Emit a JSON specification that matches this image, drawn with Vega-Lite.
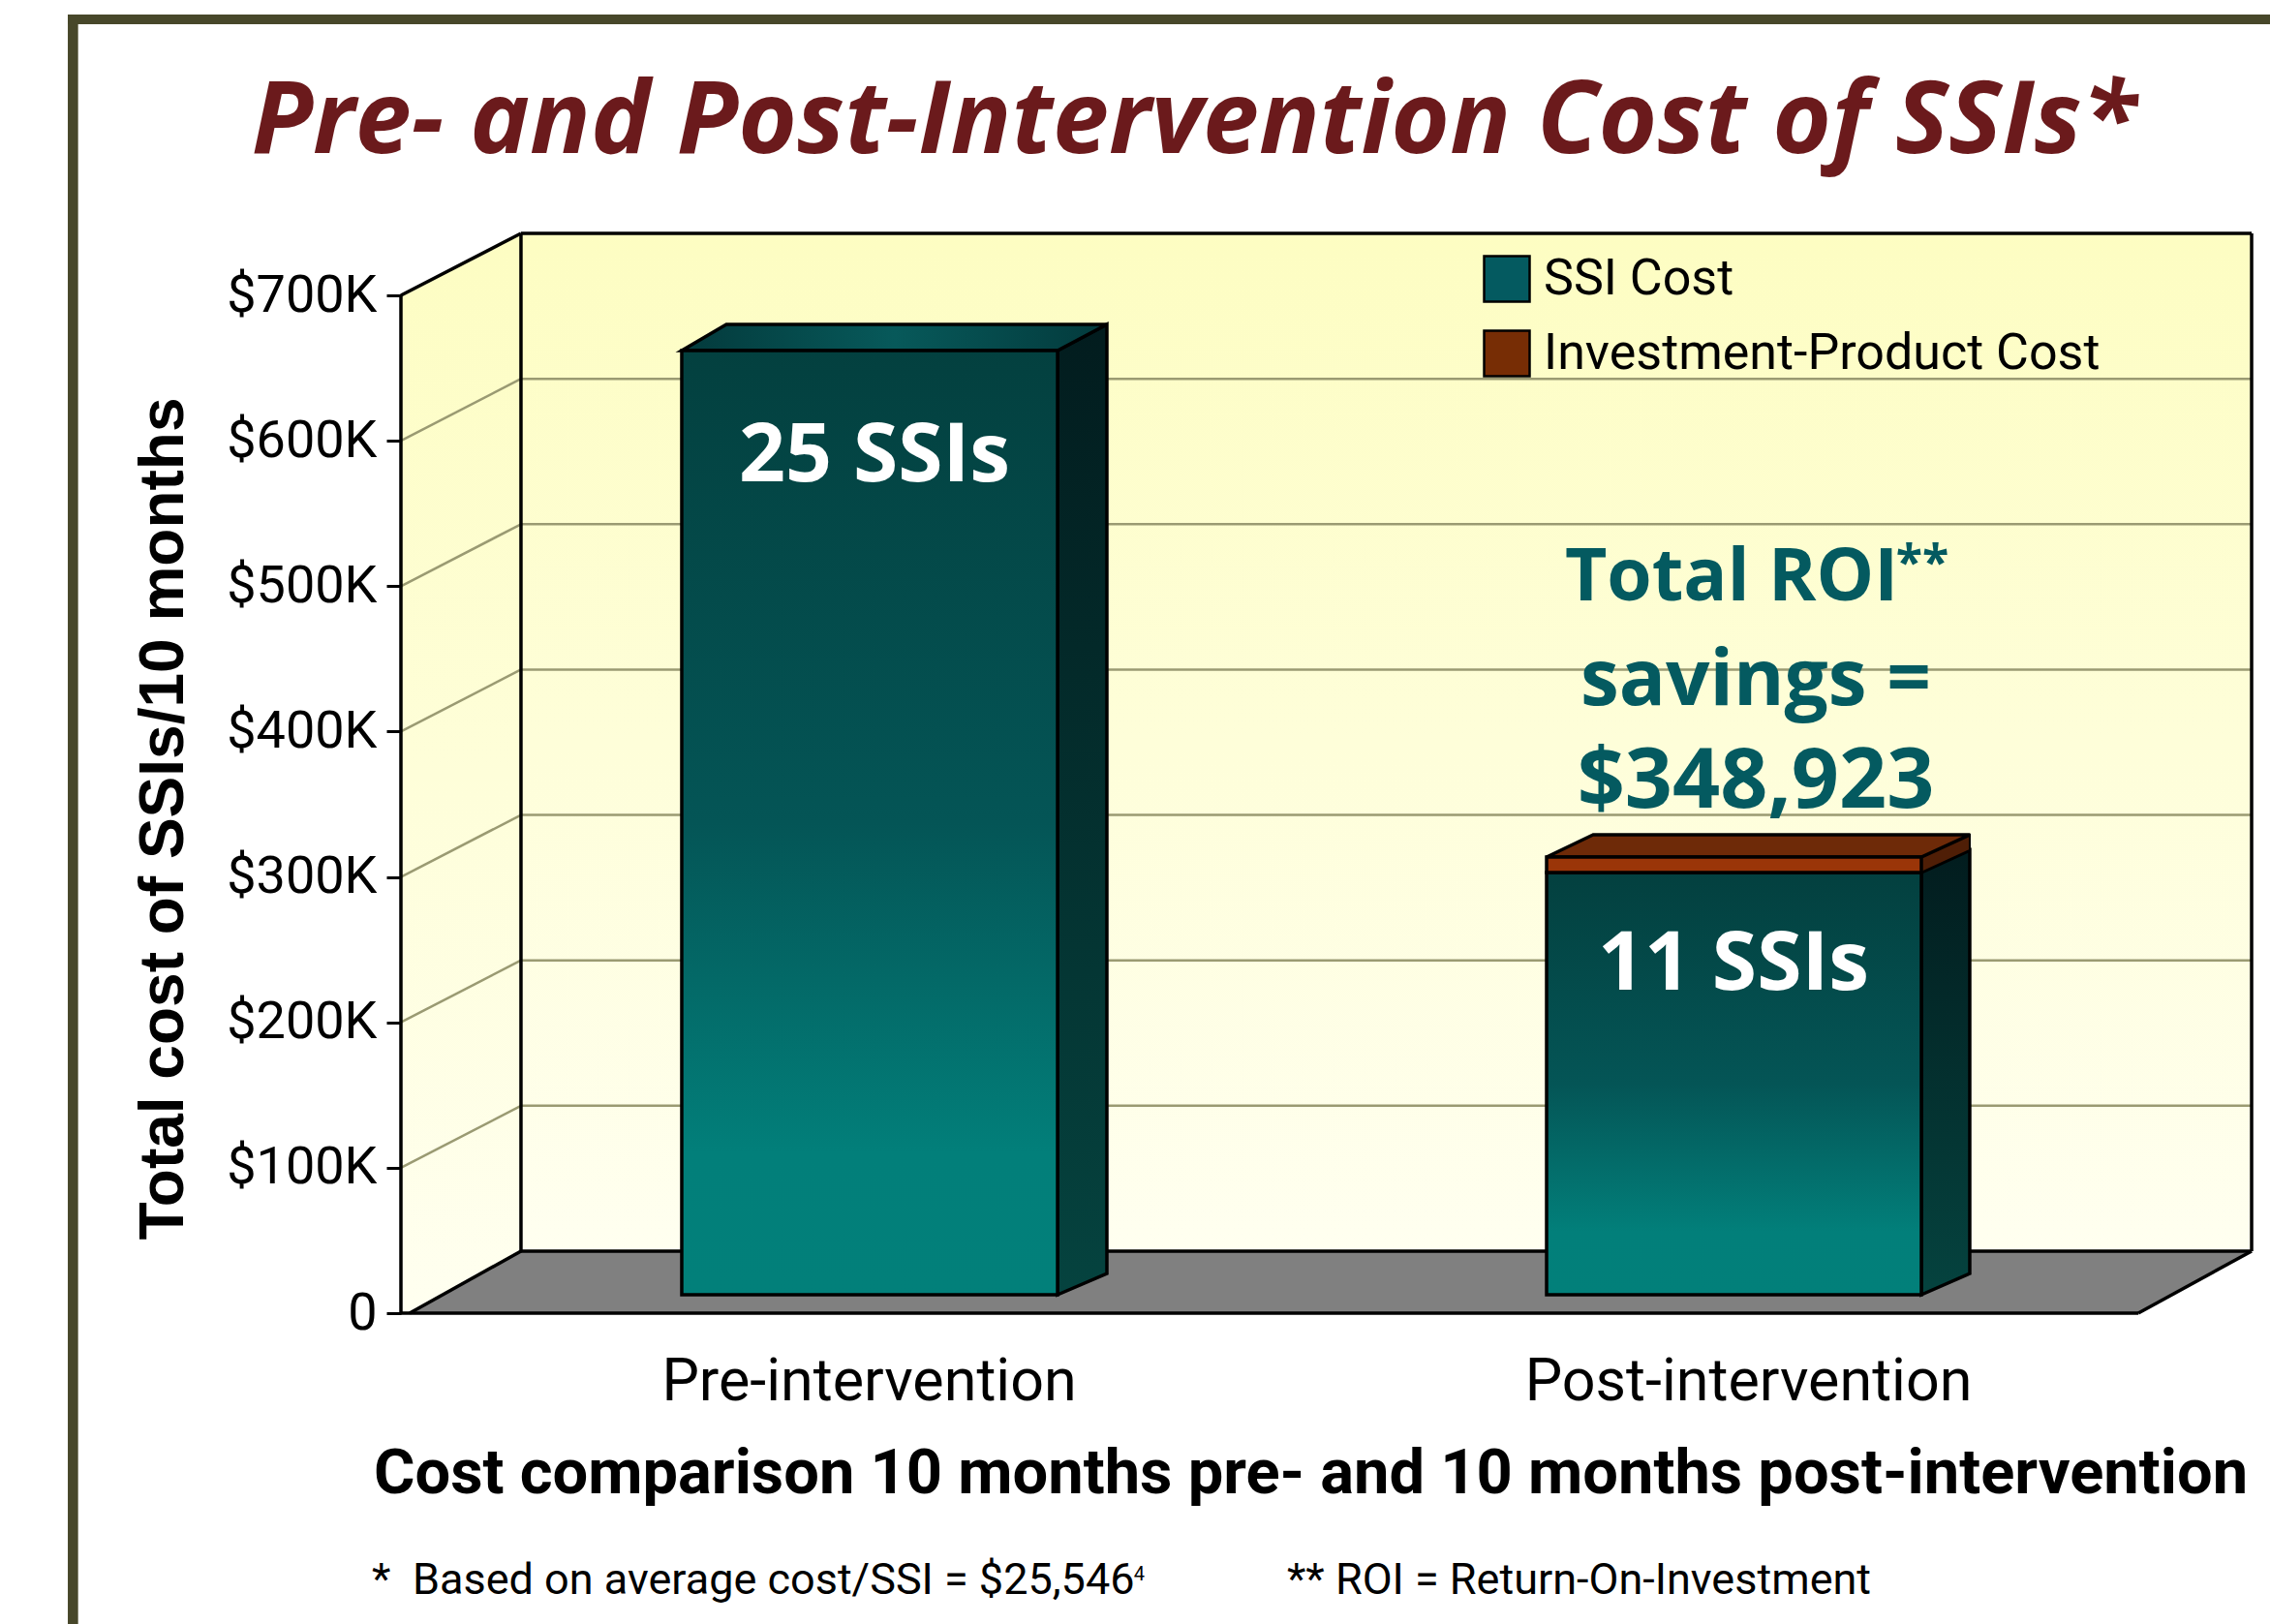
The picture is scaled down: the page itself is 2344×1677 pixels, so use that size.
{
"$schema":"https://vega.github.io/schema/vega-lite/v6.json",
"width":1912,"height":1115,
"autosize":{"type":"none"},
"padding":{"left":414,"top":241,"right":18,"bottom":321},
"background":"white",
"config":{"view":{"stroke":null}},
"title":{"text":"Pre- and Post-Intervention Cost of SSIs*","anchor":"middle","dx":-137,"offset":-247,"baseline":"alphabetic","font":"Open Sans","fontSize":104,"fontWeight":"bold","fontStyle":"italic","color":"#6b1a1c"},
"datasets":{
"frame":[{"x":0.0723,"x2":2.6202,"y":886500,"y2":893200},{"x":0.0723,"x2":0.0842,"y":-213800,"y2":893200}],
"backwall":[{"x":0.5966,"x2":2.5989,"y":42627,"y2":742646}],
"sidewall":[{"x":0.4577,"y":0,"y2":700000},{"x":0.4678,"y":0,"y2":703094},{"x":0.5966,"y":42627,"y2":742646}],
"floor":[{"y":0,"x":0.4678,"x2":2.4678},{"y":42627,"x":0.5966,"x2":2.5989}],
"grid":[
{"x":0.4577,"y":100000,"x2":0.5966,"y2":142627},{"x":0.5966,"y":142627,"x2":2.5989,"y2":142627},
{"x":0.4577,"y":200000,"x2":0.5966,"y2":242627},{"x":0.5966,"y":242627,"x2":2.5989,"y2":242627},
{"x":0.4577,"y":300000,"x2":0.5966,"y2":342627},{"x":0.5966,"y":342627,"x2":2.5989,"y2":342627},
{"x":0.4577,"y":400000,"x2":0.5966,"y2":442627},{"x":0.5966,"y":442627,"x2":2.5989,"y2":442627},
{"x":0.4577,"y":500000,"x2":0.5966,"y2":542627},{"x":0.5966,"y":542627,"x2":2.5989,"y2":542627},
{"x":0.4577,"y":600000,"x2":0.5966,"y2":642627},{"x":0.5966,"y":642627,"x2":2.5989,"y2":642627}],
"outline":[
{"x":0.4577,"y":0,"x2":0.4577,"y2":700000},
{"x":0.4577,"y":700000,"x2":0.5966,"y2":742646},
{"x":0.5966,"y":42627,"x2":0.5966,"y2":742646},
{"x":0.5966,"y":742646,"x2":2.5989,"y2":742646},
{"x":2.5989,"y":42627,"x2":2.5989,"y2":742646},
{"x":0.5966,"y":42627,"x2":2.5989,"y2":42627},
{"x":0.4678,"y":0,"x2":0.5966,"y2":42627},
{"x":2.4678,"y":0,"x2":2.5989,"y2":42627},
{"x":0.4577,"y":0,"x2":2.4678,"y2":0}],
"legendbars":[
{"series":"SSI Cost","x":0.7826,"x2":1.2174,"y":12655,"y2":662054},
{"series":"SSI Cost","x":1.7832,"x2":2.2168,"y":12655,"y2":303053},
{"series":"Investment-Product Cost","x":1.7832,"x2":2.2168,"y":303053,"y2":313710}],
"ssifront":[{"x":0.7826,"x2":1.2174,"y":12655,"y2":662054},{"x":1.7832,"x2":2.2168,"y":12655,"y2":303053}],
"invfront":[{"x":1.7832,"x2":2.2168,"y":303053,"y2":313710}],
"ssiside":[
{"id":"a","x":1.2174,"y":12655,"y2":662054},{"id":"a","x":1.2745,"y":27308,"y2":680037},
{"id":"b","x":2.2168,"y":12655,"y2":303053},{"id":"b","x":2.2728,"y":27308,"y2":318372}],
"invside":[{"x":2.2168,"y":303053,"y2":313710},{"x":2.2728,"y":318372,"y2":329029}],
"ssitop":[{"y":662054,"x":0.7826,"x2":1.2174},{"y":680037,"x":0.8342,"x2":1.2745}],
"invtop":[{"y":313710,"x":1.7832,"x2":2.2168},{"y":329029,"x":1.837,"x2":2.2728}],
"barlabels":[{"label":"25 SSIs","x":1.0056,"y":572137},{"label":"11 SSIs","x":1.9994,"y":222461}],
"roi1":[{"label":"Total ROI","x":1.9972,"y":490213}],
"roi1s":[{"label":"**","x":2.2179,"y":504866}],
"roi2":[{"label":"savings =","x":2.0252,"y":418279}],
"roi3":[{"label":"$348,923","x":2.0252,"y":347678}],
"notes":[{"label":"*","x":0.4241,"y":-193155},{"label":"Based on average cost/SSI = $25,546","x":0.4711,"y":-193155},{"label":"** ROI = Return-On-Investment","x":1.4829,"y":-193155}],
"sup":[{"label":"4","x":1.3055,"y":-183830}]
},
"encoding":{
"x":{"field":"x","type":"quantitative","scale":{"domain":[0.4577,2.6],"nice":false,"zero":false},
 "axis":{"values":[0.9989,2.0163],"labelExpr":"datum.value<1.5?'Pre-intervention':'Post-intervention'","ticks":false,"domain":false,"grid":false,"labelFont":"Roboto","labelFontSize":61,"labelColor":"black","labelPadding":89,"labelBaseline":"alphabetic","labelOverlap":false,"labelFlush":false,"labelLimit":0,
 "title":"Cost comparison 10 months pre- and 10 months post-intervention","titleFont":"Roboto","titleFontWeight":"bold","titleFontSize":65,"titleColor":"black","titleX":939,"titleY":185,"titleBaseline":"alphabetic","titleAlign":"center","titleLimit":0}},
"y":{"field":"y","type":"quantitative","stack":null,"scale":{"domain":[0,742646],"nice":false,"zero":false},
 "axis":{"values":[0,100000,200000,300000,400000,500000,600000,700000],"labelExpr":"datum.value==0?'0':'$'+datum.value/1000+'K'","domain":false,"grid":false,"tickColor":"black","tickWidth":3,"tickSize":15,"labelFont":"Roboto","labelFontSize":54,"labelColor":"black","labelPadding":10,"labelOverlap":false,"labelLimit":0,"labelFlush":false,
 "title":"Total cost of SSIs/10 months","titleFont":"Liberation Sans","titleFontWeight":"bold","titleFontSize":64,"titleColor":"black","titleX":-226,"titleY":604,"titleBaseline":"alphabetic","titleAlign":"center","titleAngle":-90,"titleLimit":0}}
},
"layer":[
{"data":{"name":"frame"},"mark":{"type":"rect","color":"#47472a"},"encoding":{"x2":{"field":"x2"},"y2":{"field":"y2"}}},
{"data":{"name":"backwall"},"mark":{"type":"rect","color":{"gradient":"linear","x1":0,"y1":0,"x2":0,"y2":1,"stops":[{"offset":0,"color":"#fdfdc2"},{"offset":1,"color":"#fffff0"}]}},"encoding":{"x2":{"field":"x2"},"y2":{"field":"y2"}}},
{"data":{"name":"sidewall"},"mark":{"type":"area","color":{"gradient":"linear","x1":0,"y1":0,"x2":0,"y2":1,"stops":[{"offset":0,"color":"#fdfdc2"},{"offset":1,"color":"#fffff0"}]}},"encoding":{"y2":{"field":"y2"}}},
{"data":{"name":"floor"},"mark":{"type":"area","orient":"horizontal","color":"#808080"},"encoding":{"x2":{"field":"x2"}}},
{"data":{"name":"grid"},"mark":{"type":"rule","color":"#9a9a72","strokeWidth":2.5},"encoding":{"x2":{"field":"x2"},"y2":{"field":"y2"}}},
{"data":{"name":"outline"},"mark":{"type":"rule","color":"black","strokeWidth":3.5},"encoding":{"x2":{"field":"x2"},"y2":{"field":"y2"}}},
{"data":{"name":"legendbars"},"mark":{"type":"rect"},"encoding":{"x2":{"field":"x2"},"y2":{"field":"y2"},
 "color":{"field":"series","type":"nominal","sort":null,"scale":{"domain":["SSI Cost","Investment-Product Cost"],"range":["#045a60","#772d05"]},
 "legend":{"title":null,"orient":"none","legendX":1116,"legendY":21,"padding":0,"symbolType":"square","symbolSize":2209,"symbolStrokeColor":"black","symbolStrokeWidth":2.5,"symbolOpacity":1,"labelFont":"Roboto","labelFontSize":52,"labelColor":"black","labelOffset":12,"labelLimit":0,"rowPadding":19}}}},
{"data":{"name":"ssiside"},"mark":{"type":"area","stroke":"black","strokeWidth":3.5,"color":{"gradient":"linear","x1":0,"y1":0,"x2":0,"y2":1,"stops":[{"offset":0,"color":"#021c1e"},{"offset":1,"color":"#05433f"}]}},"encoding":{"y2":{"field":"y2"},"detail":{"field":"id"}}},
{"data":{"name":"invside"},"mark":{"type":"area","stroke":"black","strokeWidth":2,"color":"#4f1e06"},"encoding":{"y2":{"field":"y2"}}},
{"data":{"name":"ssitop"},"mark":{"type":"area","orient":"horizontal","stroke":"black","strokeWidth":3.5,"color":{"gradient":"linear","x1":0,"y1":0,"x2":1,"y2":0,"stops":[{"offset":0,"color":"#033a3c"},{"offset":0.5,"color":"#07595a"},{"offset":1,"color":"#033a3c"}]}},"encoding":{"x2":{"field":"x2"}}},
{"data":{"name":"invtop"},"mark":{"type":"area","orient":"horizontal","stroke":"black","strokeWidth":3.5,"color":"#6e2a08"},"encoding":{"x2":{"field":"x2"}}},
{"data":{"name":"ssifront"},"mark":{"type":"rect","stroke":"black","strokeWidth":3.5,"color":{"gradient":"linear","x1":0,"y1":0,"x2":0,"y2":1,"stops":[{"offset":0,"color":"#03403f"},{"offset":0.5,"color":"#045556"},{"offset":0.85,"color":"#027f7a"},{"offset":1,"color":"#02807a"}]}},"encoding":{"x2":{"field":"x2"},"y2":{"field":"y2"}}},
{"data":{"name":"invfront"},"mark":{"type":"rect","stroke":"black","strokeWidth":3.5,"color":"#9a3508"},"encoding":{"x2":{"field":"x2"},"y2":{"field":"y2"}}},
{"data":{"name":"barlabels"},"mark":{"type":"text","font":"Open Sans","fontWeight":"bold","fontSize":84,"color":"white","align":"center","baseline":"alphabetic"},"encoding":{"text":{"field":"label"}}},
{"data":{"name":"roi1"},"mark":{"type":"text","font":"Open Sans","fontWeight":"bold","fontSize":75,"color":"#045a60","align":"center","baseline":"alphabetic"},"encoding":{"text":{"field":"label"}}},
{"data":{"name":"roi1s"},"mark":{"type":"text","font":"Open Sans","fontWeight":"bold","fontSize":50,"color":"#045a60","align":"center","baseline":"alphabetic"},"encoding":{"text":{"field":"label"}}},
{"data":{"name":"roi2"},"mark":{"type":"text","font":"Open Sans","fontWeight":"bold","fontSize":80,"color":"#045a60","align":"center","baseline":"alphabetic"},"encoding":{"text":{"field":"label"}}},
{"data":{"name":"roi3"},"mark":{"type":"text","font":"Open Sans","fontWeight":"bold","fontSize":86,"color":"#045a60","align":"center","baseline":"alphabetic"},"encoding":{"text":{"field":"label"}}},
{"data":{"name":"notes"},"mark":{"type":"text","font":"Roboto","fontSize":45,"color":"black","align":"left","baseline":"alphabetic"},"encoding":{"text":{"field":"label"}}},
{"data":{"name":"sup"},"mark":{"type":"text","font":"Roboto","fontSize":20,"color":"black","align":"left","baseline":"alphabetic"},"encoding":{"text":{"field":"label"}}}
]
}
